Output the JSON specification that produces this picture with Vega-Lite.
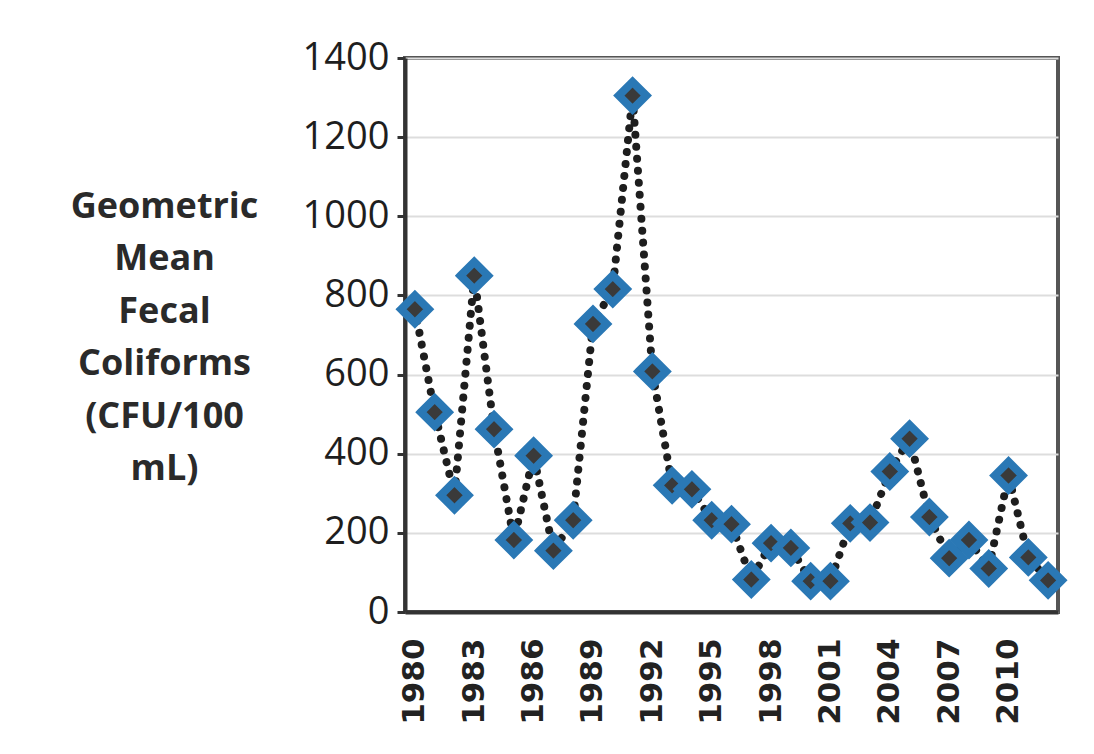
{
  "$schema": "https://vega.github.io/schema/vega-lite/v6.json",
  "width": 653,
  "height": 554,
  "autosize": {"type": "none"},
  "padding": {"left": 405, "top": 58, "right": 36, "bottom": 142},
  "background": "white",
  "config": {
    "view": {"stroke": "#555555", "strokeWidth": 4},
    "axis": {"grid": false}
  },
  "data": {
    "values": [
      {"year": 1980, "value": 765},
      {"year": 1981, "value": 505},
      {"year": 1982, "value": 295},
      {"year": 1983, "value": 850},
      {"year": 1984, "value": 462},
      {"year": 1985, "value": 182},
      {"year": 1986, "value": 395},
      {"year": 1987, "value": 155},
      {"year": 1988, "value": 232},
      {"year": 1989, "value": 728},
      {"year": 1990, "value": 816},
      {"year": 1991, "value": 1305},
      {"year": 1992, "value": 608},
      {"year": 1993, "value": 320},
      {"year": 1994, "value": 310},
      {"year": 1995, "value": 232},
      {"year": 1996, "value": 222},
      {"year": 1997, "value": 82},
      {"year": 1998, "value": 174},
      {"year": 1999, "value": 162},
      {"year": 2000, "value": 78},
      {"year": 2001, "value": 78},
      {"year": 2002, "value": 224},
      {"year": 2003, "value": 226},
      {"year": 2004, "value": 355},
      {"year": 2005, "value": 438},
      {"year": 2006, "value": 240},
      {"year": 2007, "value": 136},
      {"year": 2008, "value": 182},
      {"year": 2009, "value": 110},
      {"year": 2010, "value": 345},
      {"year": 2011, "value": 138},
      {"year": 2012, "value": 80}
    ]
  },
  "encoding": {
    "x": {
      "field": "year",
      "type": "quantitative",
      "scale": {"domain": [1979.5, 2012.5], "nice": false, "zero": false},
      "axis": {
        "title": null,
        "values": [1980, 1983, 1986, 1989, 1992, 1995, 1998, 2001, 2004, 2007, 2010],
        "format": "d",
        "labelAngle": -90,
        "labelFont": "DejaVu Sans",
        "labelFontWeight": "bold",
        "labelFontSize": 31,
        "labelColor": "#222222",
        "labelPadding": 26,
        "ticks": false,
        "tickSize": 0,
        "domainColor": "#333333",
        "domainWidth": 4,
        "grid": false,
        "labelFlush": false,
        "labelOverlap": false
      }
    },
    "y": {
      "field": "value",
      "type": "quantitative",
      "scale": {"domain": [0, 1400], "nice": false},
      "axis": {
        "values": [0, 200, 400, 600, 800, 1000, 1200, 1400],
        "format": "d",
        "title": ["Geometric", "Mean", "Fecal", "Coliforms", "(CFU/100", "mL)"],
        "titleAngle": 0,
        "titleAlign": "center",
        "titleBaseline": "top",
        "titleX": -241,
        "titleY": 131,
        "titleLineHeight": 52.5,
        "titleFont": "Open Sans",
        "titleFontWeight": "bold",
        "titleFontSize": 36,
        "titleColor": "#2a2a2a",
        "labelFont": "Open Sans",
        "labelFontSize": 38,
        "labelColor": "#1e1e1e",
        "labelPadding": 8,
        "tickSize": 8,
        "tickColor": "#333333",
        "tickWidth": 3,
        "domainColor": "#333333",
        "domainWidth": 4,
        "grid": true,
        "gridColor": "#dddddd",
        "gridWidth": 2
      }
    }
  },
  "layer": [
    {
      "mark": {
        "type": "line",
        "color": "#1e1e1e",
        "strokeWidth": 8,
        "strokeDash": [0.01, 12],
        "strokeCap": "round"
      }
    },
    {
      "mark": {
        "type": "point",
        "shape": "diamond",
        "filled": true,
        "size": 760,
        "fill": "#3a3a3a",
        "stroke": "#2a78b5",
        "strokeWidth": 8,
        "opacity": 1
      }
    }
  ]
}
